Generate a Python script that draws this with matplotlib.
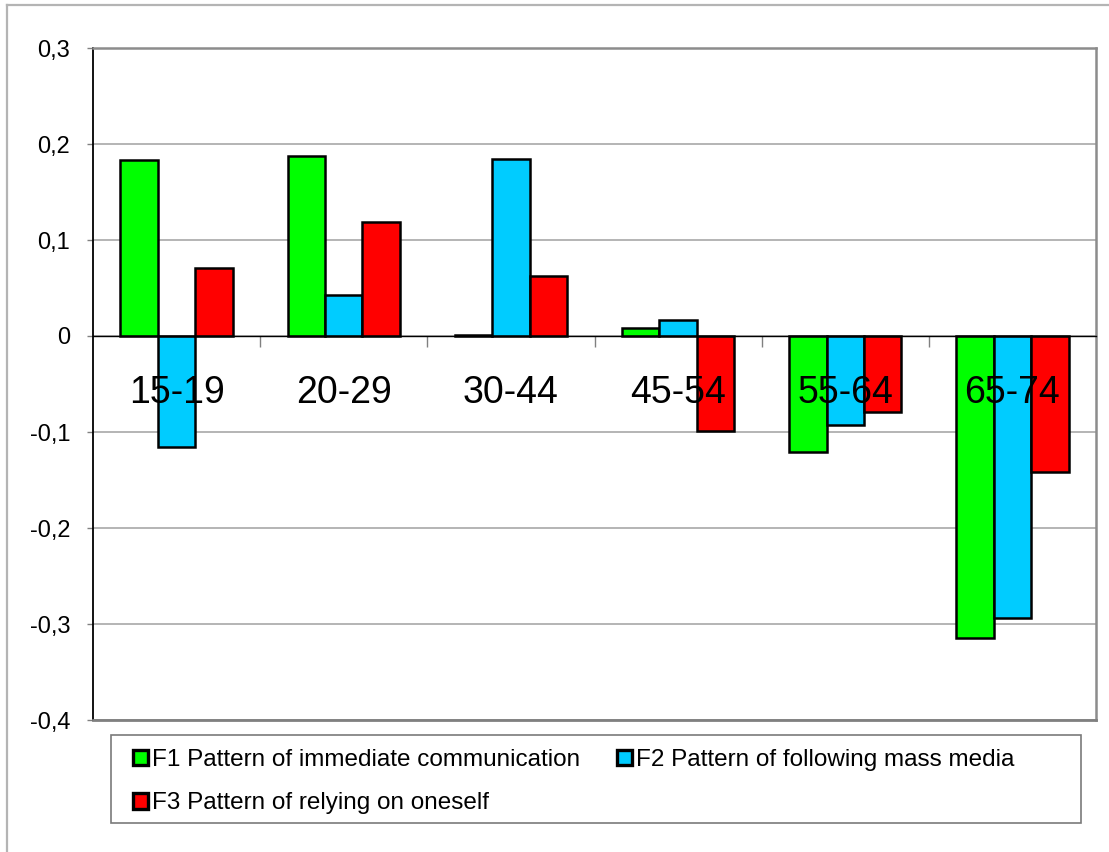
import matplotlib
matplotlib.use("Agg")
import matplotlib.pyplot as plt
from matplotlib.patches import Patch, Rectangle
from matplotlib.lines import Line2D
import numpy as np

plt.rcParams['font.family'] = ['Liberation Sans', 'DejaVu Sans']

# age groups and factor scores
age_groups = ["15-19", "20-29", "30-44", "45-54", "55-64", "65-74"]
f1_values = [0.183, 0.188, 0.001, 0.008, -0.121, -0.315]
f2_values = [-0.116, 0.043, 0.184, 0.017, -0.093, -0.294]
f3_values = [0.071, 0.119, 0.062, -0.099, -0.079, -0.142]
series_names = ["F1 Pattern of immediate communication",
                "F2 Pattern of following mass media",
                "F3 Pattern of relying on oneself"]
series_colors = ["#00ff00", "#00ccff", "#ff0000"]
y_ticks = [-0.4, -0.3, -0.2, -0.1, 0.0, 0.1, 0.2, 0.3]

W, H = 1109, 852
fig = plt.figure(figsize=(W / 100, H / 100), dpi=100)
fig.set_facecolor("white")

# outer chart frame (top + left only, rest runs off the canvas)
fig.add_artist(Line2D([7 / W, 1.0], [1 - 5 / H, 1 - 5 / H],
                      transform=fig.transFigure, color="#b4b4b4", lw=1.6))
fig.add_artist(Line2D([7 / W, 7 / W], [0.0, 1 - 5 / H],
                      transform=fig.transFigure, color="#b4b4b4", lw=1.6))

ax = fig.add_axes([93 / W, 1 - 720 / H, (1096 - 93) / W, (720 - 48) / H])

x = np.arange(len(age_groups))
bw = 0.224
for k, (vals, col) in enumerate(zip([f1_values, f2_values, f3_values], series_colors)):
    ax.bar(x + (k - 1) * bw, vals, width=bw, color=col,
           edgecolor="black", linewidth=1.8, zorder=3)

ax.set_xlim(-0.5, len(age_groups) - 0.5)
ax.set_ylim(-0.4, 0.3)


def fmt_tick(v, pos):
    if abs(v) < 1e-9:
        return "0"
    return f"{v:.1f}".replace(".", ",")


# y axis
ax.set_yticks(y_ticks)
ax.yaxis.set_major_formatter(plt.FuncFormatter(fmt_tick))
ax.tick_params(axis="y", direction="out", length=4.5, width=1, color="#808080",
               labelsize=17, pad=12)
ax.grid(axis="y", color="#a0a0a0", linewidth=1.1, zorder=0)
ax.set_axisbelow(True)

# category axis sits at zero, tick marks between groups
ax.spines["bottom"].set_position(("data", 0))
ax.spines["bottom"].set_color("black")
ax.spines["bottom"].set_linewidth(1.0)
ax.spines["bottom"].set_zorder(4)
ax.set_xticks(x[:-1] + 0.5)
ax.set_xticklabels([])
ax.tick_params(axis="x", direction="out", length=8, width=1, color="#808080")

ax.spines["left"].set_color("black")
ax.spines["left"].set_linewidth(1.3)
for side in ["top", "right"]:
    ax.spines[side].set_color("#8c8c8c")
    ax.spines[side].set_linewidth(1.8)
ax.add_line(Line2D([0, 1], [0, 0], transform=ax.transAxes, color="#808080",
                   lw=2.0, clip_on=False, zorder=5))

for xi, lab in zip(x, age_groups):
    ax.text(xi, -0.059, lab, ha="center", va="center", fontsize=27, zorder=6)

# legend box
fig.add_artist(Rectangle((111 / W, 1 - 823 / H), (1081 - 111) / W, (823 - 735) / H,
                         transform=fig.transFigure, facecolor="white",
                         edgecolor="#7a7a7a", lw=1.2))
handles = [Patch(facecolor=c, edgecolor="black", linewidth=2.4) for c in series_colors]
order = [0, 2, 1]
leg = fig.legend([handles[i] for i in order], [series_names[i] for i in order],
                 loc="upper left", bbox_to_anchor=(133 / W, 1 - 749 / H),
                 ncol=2, frameon=False, fontsize=17.5,
                 handlelength=0.6, handleheight=0.6, handletextpad=0.2,
                 columnspacing=1.5, labelspacing=0.88,
                 borderpad=0, borderaxespad=0)

fig.savefig("out.png", dpi=100, facecolor="white")
